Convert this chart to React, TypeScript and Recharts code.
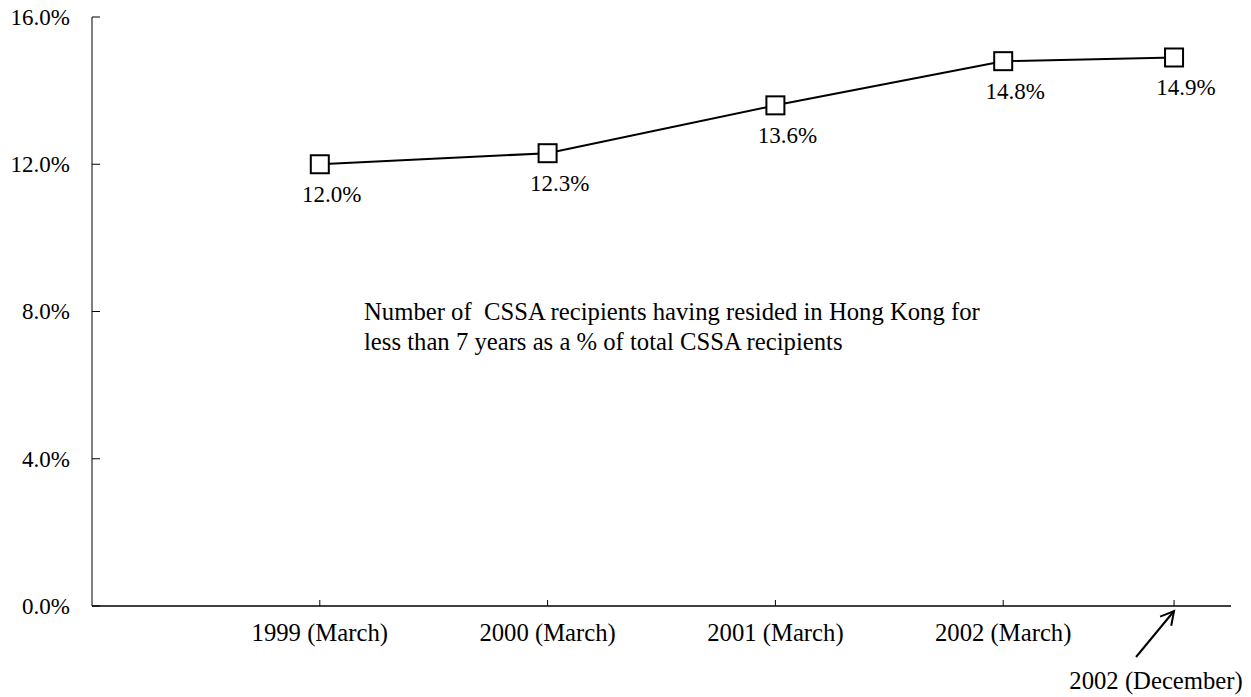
import React from 'react';
import { LabelList, Line, LineChart, XAxis, YAxis } from 'recharts';

// months counted from March 1998, so the x axis keeps the real time gaps
const periods = ['1999 (March)', '2000 (March)', '2001 (March)', '2002 (March)', '2002 (December)'];
const monthOffsets = [12, 24, 36, 48, 57];
const shares = [12.0, 12.3, 13.6, 14.8, 14.9];
const yTicks = [0, 4, 8, 12, 16];

const data = monthOffsets.map((m, i) => ({ m, label: periods[i], share: shares[i] }));

const FONT = '"Liberation Serif", "Times New Roman", serif';
const FS = 23;
const FS_WIDE = 24.7;

const SquareDot = (props: any) => {
  const { cx, cy, index } = props;
  return (
    <rect key={`dot-${index}`} x={cx - 9} y={cy - 9} width={18} height={18} fill="#fff" stroke="#000" strokeWidth={2} />
  );
};

const YTick = (props: any) => {
  const { x, y, payload } = props;
  return (
    <text x={x} y={y} dy="0.34em" textAnchor="end" fontFamily={FONT} fontSize={FS} fill="#000">
      {payload.value.toFixed(1) + '%'}
    </text>
  );
};

const XTick = (props: any) => {
  const { x, y, payload } = props;
  const i = monthOffsets.indexOf(payload.value);
  const text = periods[i];
  if (i === monthOffsets.length - 1) {
    // last label sits lower with an arrow pointing at its tick
    const tipX = x;
    const tipY = y - 30;
    const tailX = x - 38;
    const tailY = y + 16;
    const ang = Math.atan2(tailY - tipY, tailX - tipX);
    const len = 15;
    const b1 = [tipX + len * Math.cos(ang + 0.5), tipY + len * Math.sin(ang + 0.5)];
    const b2 = [tipX + len * Math.cos(ang - 0.5), tipY + len * Math.sin(ang - 0.5)];
    return (
      <g>
        <line x1={tailX} y1={tailY} x2={tipX} y2={tipY} stroke="#000" strokeWidth={2} />
        <polyline points={`${b1[0]},${b1[1]} ${tipX},${tipY} ${b2[0]},${b2[1]}`} fill="none" stroke="#000" strokeWidth={2} />
        <text x={x - 18} y={y + 48} textAnchor="middle" fontFamily={FONT} fontSize={FS_WIDE} fill="#000">
          {text}
        </text>
      </g>
    );
  }
  return (
    <text x={x} y={y} textAnchor="middle" fontFamily={FONT} fontSize={FS_WIDE} fill="#000">
      {text}
    </text>
  );
};

const ValueLabel = (props: any) => {
  const { x, y, value } = props;
  return (
    <text x={x + 12} y={y + 38} textAnchor="middle" fontFamily={FONT} fontSize={FS} fill="#000">
      {value.toFixed(1) + '%'}
    </text>
  );
};

export default function App() {
  return (
    <div style={{ position: 'absolute', left: 0, top: 0, width: 1251, height: 697, background: '#fff' }}>
      <LineChart width={1251} height={697} data={data} margin={{ top: 17, right: 20, bottom: 0, left: 0 }}>
        <XAxis
          dataKey="m"
          type="number"
          domain={[0, 60]}
          ticks={monthOffsets}
          height={91}
          tickSize={-6}
          tickMargin={41}
          axisLine={{ stroke: '#000', strokeWidth: 1.5 }}
          tickLine={{ stroke: '#000' }}
          tick={<XTick />}
          interval={0}
        />
        <XAxis xAxisId="top" orientation="top" type="number" domain={[0, 60]} height={0} tick={false} tickLine={false} axisLine={{ stroke: '#777' }} />
        <YAxis
          type="number"
          domain={[0, 16]}
          ticks={yTicks}
          width={92}
          tickSize={-8}
          tickMargin={30}
          axisLine={{ stroke: '#000' }}
          tickLine={{ stroke: '#000' }}
          tick={<YTick />}
          interval={0}
        />
        <YAxis yAxisId="right" orientation="right" domain={[0, 16]} width={0} tick={false} tickLine={false} axisLine={{ stroke: '#777' }} />
        <Line
          dataKey="share"
          type="linear"
          stroke="#000"
          strokeWidth={2}
          dot={<SquareDot />}
          activeDot={false}
          isAnimationActive={false}
        >
          <LabelList dataKey="share" content={<ValueLabel />} />
        </Line>
      </LineChart>
      <div
        style={{
          position: 'absolute',
          left: 364,
          top: 297,
          fontFamily: FONT,
          fontSize: FS_WIDE,
          lineHeight: '30px',
          whiteSpace: 'pre',
          color: '#000',
        }}
      >
        {'Number of  CSSA recipients having resided in Hong Kong for\nless than 7 years as a % of total CSSA recipients'}
      </div>
    </div>
  );
}
